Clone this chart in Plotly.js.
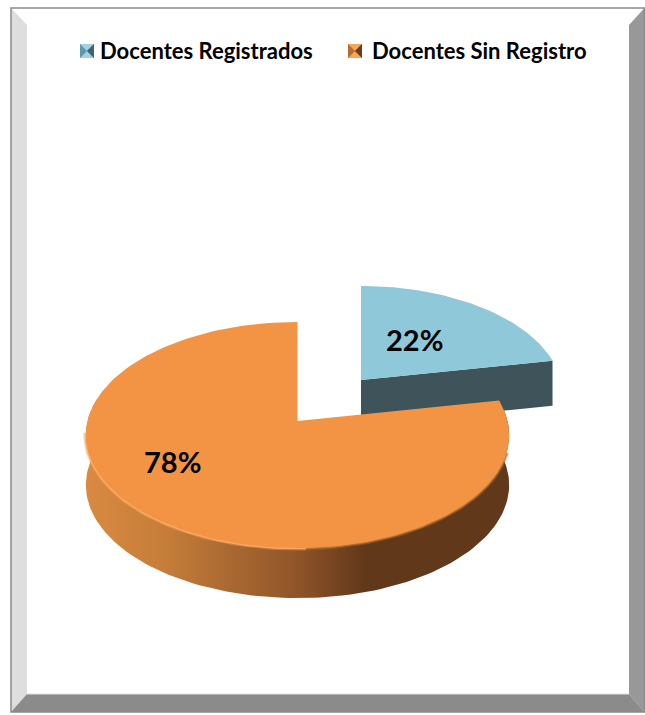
<!DOCTYPE html>
<html>
<head>
<meta charset="utf-8">
<script src="https://cdn.plot.ly/plotly-3.0.1.min.js"></script>
<style>html,body{margin:0;padding:0;background:#fff;overflow:hidden}</style>
</head>
<body>
<div id="chart" style="width:645px;height:715px"></div>
<script>
// ---- data ----
const categories = ["Docentes Registrados", "Docentes Sin Registro"];
const percentages = [22, 78];

// ---- colours ----
const topColors = ["#8fc9d9", "#f39444"];
const blueWall = "#3f535b";

// ---- geometry of the tilted pie (perspective projection of a disc) ----
const A = 210, B = 111.3, K = 0.124;
const orange = {cx: 297.5, cy: 421, s: 1, depth: 50};
const blue = {cx: 361, cy: 380, s: 0.95, depth: 45};

function proj(g, deg) {
  const t = deg * Math.PI / 180;
  const u = Math.sin(t), v = Math.cos(t), w = 1 / (1 + K * v);
  return [g.cx + g.s * A * u * w, g.cy - g.s * B * v * w];
}
function arc(g, a0, a1, dy) {
  const pts = [], n = Math.max(2, Math.ceil(Math.abs(a1 - a0) / 1.5));
  for (let i = 0; i <= n; i++) {
    const p = proj(g, a0 + (a1 - a0) * i / n);
    pts.push([p[0], p[1] + (dy || 0)]);
  }
  return pts;
}
function poly(pts, extra) {
  return Object.assign({
    x: pts.map(p => p[0]), y: pts.map(p => p[1]),
    mode: "lines", fill: "toself", line: {width: 0}, hoverinfo: "skip", showlegend: false
  }, extra);
}
function lineOf(pts, color, width, opacity) {
  return {x: pts.map(p => p[0]), y: pts.map(p => p[1]), mode: "lines", opacity: opacity === undefined ? 1 : opacity,
    line: {color: color, width: width}, hoverinfo: "skip", showlegend: false};
}

const total = percentages[0] + percentages[1];
const split = 360 * percentages[0] / total;

// blue slice: 0 .. split ; orange slice: split .. 360
const blueTop = [[blue.cx, blue.cy]].concat(arc(blue, 0, split));
const bEnd = proj(blue, split);
const blueFront = [[blue.cx, blue.cy], bEnd, [bEnd[0], bEnd[1] + blue.depth], [blue.cx, blue.cy + blue.depth]];

const orangeTop = [[orange.cx, orange.cy]].concat(arc(orange, split, 360));
const wallTop = arc(orange, split, 282);
const wallBottom = arc(orange, 282, split, orange.depth);
const orangeWall = wallTop.concat(wallBottom);

const traces = [
  poly(blueFront, {fillcolor: blueWall, name: categories[0] + " lateral"}),
  poly(blueTop, {fillcolor: topColors[0], name: categories[0]}),
  poly(orangeWall, {
    name: categories[1] + " lateral",
    fillgradient: {type: "horizontal", colorscale: [
      [0, "#d98a40"], [0.18, "#c67e3a"], [0.5, "#8f5429"], [0.66, "#61381a"], [1, "#61381a"]
    ]}
  }),
  lineOf(arc(orange, 106, 178), "#a5672f", 5, 0.45),
  lineOf(arc(orange, 106, 178), "#c07a38", 2.5, 0.8),
  lineOf(arc(orange, 178, 264), "#f8a55c", 5, 0.45),
  lineOf(arc(orange, 178, 264), "#fcae66", 2.5, 0.9),
  poly(orangeTop, {fillcolor: topColors[1], name: categories[1]})
];

// ---- frame (bevel) ----
function path(pts) { return "M" + pts.map(p => p.join(",")).join("L") + "Z"; }
function shp(pts, fill, layer) {
  return {type: "path", xref: "x", yref: "y", path: path(pts), fillcolor: fill,
    line: {color: fill, width: 0}, layer: layer || "below"};
}
const oL = 11, oR = 644.5, oT = 8, oB = 712;
const iL = 27, iR = 629, iT = 25, iB = 694;
const shapes = [
  shp([[oL,oT],[oR,oT],[iR,iT],[iL,iT]], "#ffffff"),
  shp([[oL,oT],[iL,iT],[iL,iB],[oL,oB]], "#dedede"),
  shp([[oR,oT],[oR,oB],[iR,iB],[iR,iT]], "#989898"),
  shp([[oL,oB],[iL,iB],[iR,iB],[oR,oB]], "#8b8b8b"),
  {type: "rect", xref: "x", yref: "y", x0: oL, x1: oR, y0: oT, y1: oB,
   fillcolor: "rgba(0,0,0,0)", line: {color: "#8a8a8a", width: 1.5}, layer: "below"},
  {type: "line", xref: "x", yref: "y", x0: iL, x1: iR, y0: iB, y1: iB,
   line: {color: "#e2e2e2", width: 1}, layer: "below"}
];

// ---- legend swatches (pyramid-shaded squares) ----
function swatch(x0, y0, size, light, dark, mid) {
  const x1 = x0 + size, y1 = y0 + size, c = [x0 + size / 2, y0 + size / 2];
  return [
    shp([[x0,y0],[x1,y0],[x1,y1],[x0,y1]], mid, "above"),
    shp([[x0,y0],[x1,y0],c], light, "above"),
    shp([[x0,y1],[x1,y1],c], light, "above"),
    shp([[x1,y0],[x1,y1],c], dark, "above")
  ];
}
shapes.push(...swatch(80, 44, 14, "#9fd3e2", "#3f6470", "#5f97a8"));
shapes.push(...swatch(348, 44, 14, "#f8a55c", "#6a3e1c", "#b56d30"));

const fontFamily = "Lato, Carlito, 'Open Sans', sans-serif";
function label(text, x, y, size, anchor) {
  return {text: "<b>" + text + "</b>", x: x, y: y, xref: "x", yref: "y", showarrow: false,
    xanchor: anchor, yanchor: "middle", font: {family: fontFamily, size: size, color: "#000"}};
}
const annotations = [
  label(categories[0], 98, 50, 22, "left"),
  label(categories[1], 370, 50, 22, "left"),
  label(percentages[0] + "%", 414, 339, 29, "center"),
  label(percentages[1] + "%", 172, 461, 29, "center")
];

const axis = {visible: false, fixedrange: true, showgrid: false, zeroline: false};
Plotly.newPlot("chart", traces, {
  width: 645, height: 715,
  margin: {l: 0, r: 0, t: 0, b: 0},
  paper_bgcolor: "#ffffff", plot_bgcolor: "rgba(0,0,0,0)",
  xaxis: Object.assign({range: [0, 645]}, axis),
  yaxis: Object.assign({range: [715, 0]}, axis),
  showlegend: false, shapes: shapes, annotations: annotations
}, {displayModeBar: false, staticPlot: true});
</script>
</body>
</html>
